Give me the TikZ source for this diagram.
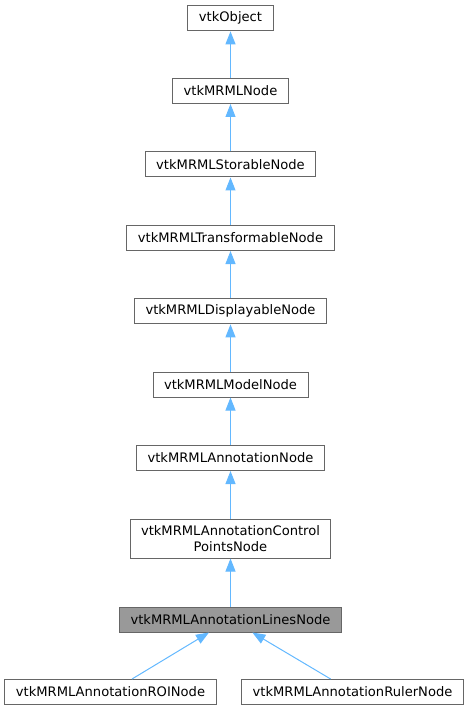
\documentclass[tikz,border=0pt]{standalone}
\usepackage{fontspec}
\usetikzlibrary{arrows.meta}
\newfontfamily\dejavu{DejaVu Sans}
\newcommand{\classfont}{\dejavu\fontsize{13.1}{15.5}\selectfont}
\definecolor{boxGray}{HTML}{666666}
\definecolor{curGray}{HTML}{999999}
\definecolor{edgeBlue}{HTML}{63B8FF}

\tikzstyle{classBox} = [rectangle, draw=boxGray, fill=white, line width=1pt, font={\classfont}, inner xsep=11pt, inner ysep=6.5pt, minimum height=25pt, align=center]
\tikzstyle{currentBox} = [classBox, fill=curGray]
\tikzstyle{inherit} = [draw=edgeBlue, line width=1pt, -{Triangle[length=13pt,width=10pt]}]

\begin{document}
\begin{tikzpicture}[x=1pt, y=-1pt]
            \useasboundingbox (0,0) rectangle (469,711);
            \node[classBox] (obj) at (230.5,18) {vtkObject};
            \node[classBox, below of=obj, node distance=73pt] (mrml) {vtkMRMLNode};
            \node[classBox, below of=mrml, node distance=73.5pt] (storable) {vtkMRMLStorableNode};
            \node[classBox, below of=storable, node distance=73.5pt] (transformable) {vtkMRMLTransformableNode};
            \node[classBox, below of=transformable, node distance=73pt] (displayable) {vtkMRMLDisplayableNode};
            \node[classBox, below of=displayable, node distance=73.5pt] (model) {vtkMRMLModelNode};
            \node[classBox, below of=model, node distance=73.5pt] (annot) {vtkMRMLAnnotationNode};
            \node[classBox, below of=annot, node distance=80.7pt] (ctrl) {vtkMRMLAnnotationControl\\PointsNode};
            \node[currentBox, below of=ctrl, node distance=80.8pt] (lines) {vtkMRMLAnnotationLinesNode};
            \node[classBox, below of=lines, node distance=72.5pt, xshift=-120pt] (roi) {vtkMRMLAnnotationROINode};
            \node[classBox, below of=lines, node distance=72.5pt, xshift=122pt] (ruler) {vtkMRMLAnnotationRulerNode};

            \draw[inherit] (mrml) -- (obj);
            \draw[inherit] (storable) -- (mrml);
            \draw[inherit] (transformable) -- (storable);
            \draw[inherit] (displayable) -- (transformable);
            \draw[inherit] (model) -- (displayable);
            \draw[inherit] (annot) -- (model);
            \draw[inherit] (ctrl) -- (annot);
            \draw[inherit] (lines) -- (ctrl);
            \draw[inherit] (roi) -- (lines);
            \draw[inherit] (ruler) -- (lines);
        \end{tikzpicture}
\end{document}
